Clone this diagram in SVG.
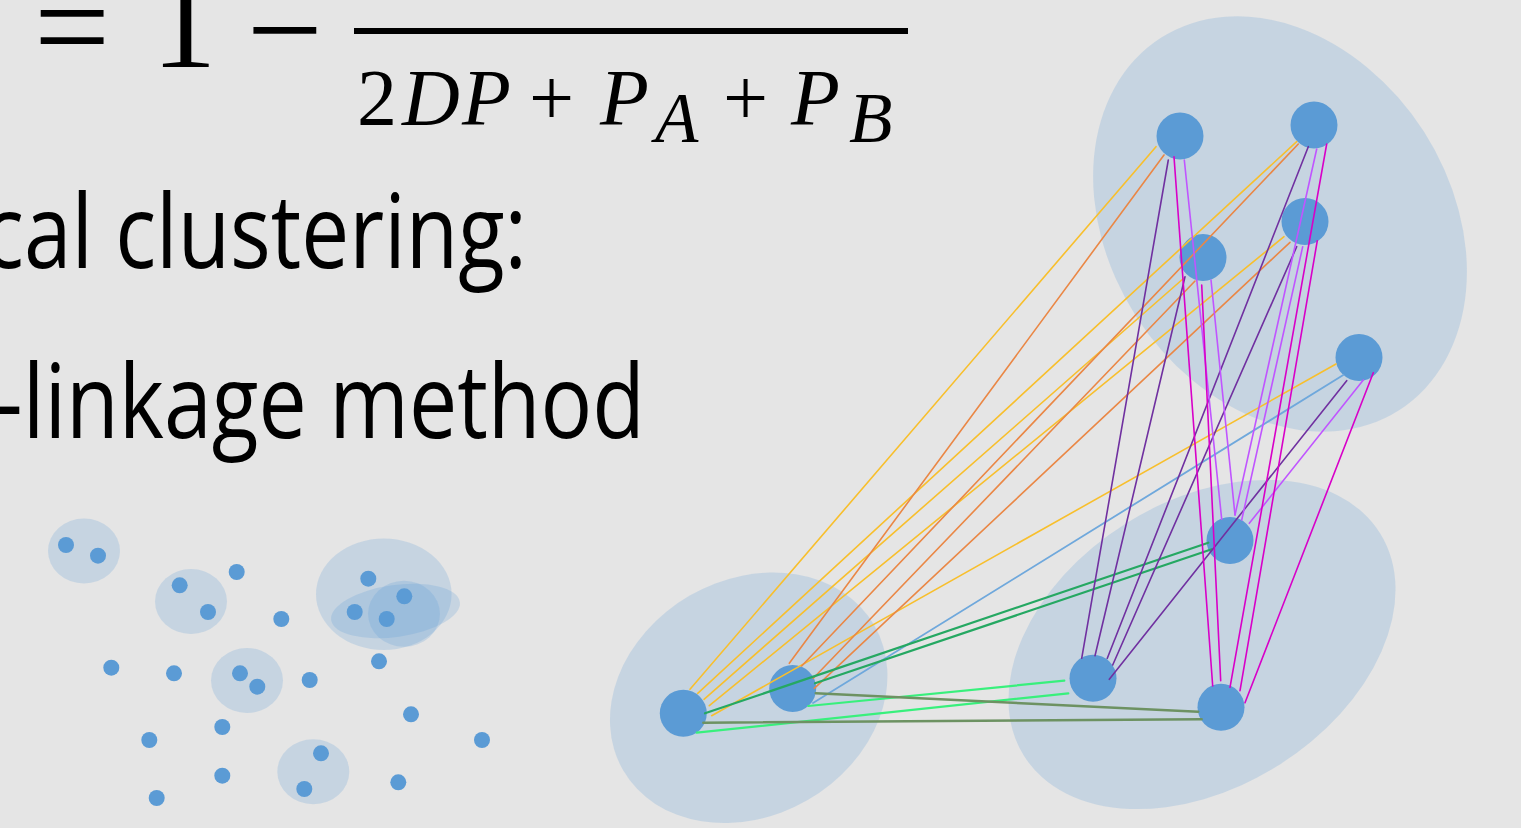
<svg xmlns="http://www.w3.org/2000/svg" width="1521" height="828" viewBox="0 0 1521 828">
<style>
.bg{fill:#e5e5e5}
.hull{fill:#5b9bd5;fill-opacity:0.22}
.dot{fill:#5b9bd5}
.node{fill:#5b9bd5}
.big{font-family:"Open Sans","Liberation Sans",sans-serif;font-size:102px;fill:#000}
.m{font-family:"Liberation Serif","DejaVu Serif",serif;fill:#000}
.it{font-style:italic}
#connectors line{fill:none;stroke-linecap:round}
.y{stroke:#f8bf2c;stroke-width:1.6}
.o{stroke:#ea8745;stroke-width:1.6}
.lb{stroke:#6fa8dc;stroke-width:1.8}
.dg{stroke:#25a862;stroke-width:2.2}
.bg2{stroke:#38f07c;stroke-width:2.2}
.ol{stroke:#6d9262;stroke-width:2.4}
.pu{stroke:#7030a0;stroke-width:1.6}
.lp{stroke:#c055ff;stroke-width:1.6}
.mg{stroke:#d800c8;stroke-width:1.6}
</style>
<rect class="bg" x="0" y="0" width="1521" height="828"/>

<g id="formula">
<text class="m" x="34" y="72" font-size="135">=</text>
<text class="m" x="184" y="67" font-size="130" text-anchor="middle">1</text>
<text class="m" x="284.5" y="75" font-size="135" text-anchor="middle">−</text>
<rect x="354" y="28" width="554" height="6" fill="#000"/>
<text class="m" y="125" font-size="80"><tspan x="357">2</tspan><tspan class="it" x="402">D</tspan><tspan class="it" x="462">P</tspan><tspan x="529">+</tspan><tspan class="it" x="600">P</tspan></text>
<text class="m it" x="655" y="142" font-size="71">A</text>
<text class="m" y="125" font-size="80"><tspan x="723">+</tspan><tspan class="it" x="791">P</tspan></text>
<text class="m it" x="849" y="142" font-size="71">B</text>
</g>

<g id="title">
<text class="big" x="-17" y="268" textLength="544" lengthAdjust="spacingAndGlyphs">cal clustering:</text>
<text class="big" x="-5" y="438" textLength="650" lengthAdjust="spacingAndGlyphs">-linkage method</text>
</g>

<g id="scatter">
<ellipse class="hull" cx="84" cy="551" rx="36" ry="32.5"/>
<ellipse class="hull" cx="191" cy="601.5" rx="36" ry="32.5"/>
<ellipse class="hull" cx="247" cy="680.5" rx="36" ry="32.5"/>
<ellipse class="hull" cx="313.3" cy="771.8" rx="36" ry="32.5"/>
<ellipse class="hull" cx="383.8" cy="594.2" rx="67.8" ry="55.8"/>
<ellipse class="hull" cx="404" cy="613.8" rx="36" ry="33"/>
<ellipse class="hull" cx="395.5" cy="611" rx="65" ry="26" transform="rotate(-8 395.5 611)"/>
<circle class="dot" cx="66" cy="545" r="8"/>
<circle class="dot" cx="98" cy="555.7" r="8"/>
<circle class="dot" cx="179.7" cy="585.3" r="8"/>
<circle class="dot" cx="208" cy="612" r="8"/>
<circle class="dot" cx="236.7" cy="572" r="8"/>
<circle class="dot" cx="281.3" cy="619" r="8"/>
<circle class="dot" cx="368.3" cy="578.7" r="8"/>
<circle class="dot" cx="404.3" cy="596.3" r="8"/>
<circle class="dot" cx="354.7" cy="612" r="8"/>
<circle class="dot" cx="386.7" cy="619" r="8"/>
<circle class="dot" cx="379" cy="661.3" r="8"/>
<circle class="dot" cx="111.3" cy="667.7" r="8"/>
<circle class="dot" cx="174" cy="673.3" r="8"/>
<circle class="dot" cx="240" cy="673.3" r="8"/>
<circle class="dot" cx="257.3" cy="686.7" r="8"/>
<circle class="dot" cx="309.7" cy="680" r="8"/>
<circle class="dot" cx="411" cy="714.3" r="8"/>
<circle class="dot" cx="482" cy="740" r="8"/>
<circle class="dot" cx="149.3" cy="740" r="8"/>
<circle class="dot" cx="222.3" cy="727" r="8"/>
<circle class="dot" cx="222.3" cy="775.7" r="8"/>
<circle class="dot" cx="156.7" cy="798" r="8"/>
<circle class="dot" cx="321" cy="753.3" r="8"/>
<circle class="dot" cx="304.3" cy="789" r="8"/>
<circle class="dot" cx="398.3" cy="782.3" r="8"/>
</g>

<g id="clusters">
<ellipse id="cluster-A" class="hull" cx="1280" cy="224" rx="221" ry="171" transform="rotate(57.4 1280 224)"/>
<ellipse id="cluster-B" class="hull" cx="1202" cy="644.5" rx="210" ry="143" transform="rotate(-32 1202 644.5)"/>
<ellipse id="cluster-C" class="hull" cx="748.7" cy="697.8" rx="145" ry="118" transform="rotate(-30 748.7 697.8)"/>
</g>

<g id="node-T1"><circle class="node" cx="1180" cy="136" r="23.5"/></g>
<g id="node-T2"><circle class="node" cx="1314" cy="125" r="23.5"/></g>
<g id="node-T3"><circle class="node" cx="1305" cy="221.5" r="23.5"/></g>
<g id="node-T4"><circle class="node" cx="1203" cy="257.5" r="23.5"/></g>
<g id="node-T5"><circle class="node" cx="1359" cy="357.5" r="23.5"/></g>
<g id="node-B1"><circle class="node" cx="1230" cy="540.5" r="23.5"/></g>
<g id="node-B2"><circle class="node" cx="1093" cy="678.3" r="23.5"/></g>
<g id="node-B3"><circle class="node" cx="1221" cy="707.3" r="23.5"/></g>
<g id="node-L1"><circle class="node" cx="683.3" cy="713.3" r="23.5"/></g>
<g id="node-L2"><circle class="node" cx="792.7" cy="688.5" r="23.5"/></g>

<g id="connectors">
<line class="y" x1="690" y1="689.3" x2="1156" y2="146.7"/>
<line class="y" x1="697.7" y1="693.3" x2="1296.7" y2="141.7"/>
<line class="y" x1="704" y1="699.3" x2="1184" y2="278"/>
<line class="y" x1="709.3" y1="705.7" x2="1284" y2="236.7"/>
<line class="y" x1="711.7" y1="715.7" x2="1336" y2="364"/>
<line class="o" x1="789.3" y1="663.3" x2="1164" y2="155"/>
<line class="o" x1="801.7" y1="666" x2="1298.3" y2="144"/>
<line class="o" x1="813.3" y1="678.3" x2="1195" y2="281"/>
<line class="o" x1="814.3" y1="688.3" x2="1290" y2="242.3"/>
<line class="lb" x1="813" y1="703" x2="1343.3" y2="375"/>
<line class="dg" x1="705" y1="713.3" x2="1208.3" y2="542.7"/>
<line class="dg" x1="815" y1="683.3" x2="1211.7" y2="549.3"/>
<line class="bg2" x1="696.7" y1="732.7" x2="1068.3" y2="693.3"/>
<line class="bg2" x1="808.3" y1="706" x2="1064.3" y2="680.7"/>
<line class="ol" x1="703.3" y1="722.7" x2="1201.7" y2="719.3"/>
<line class="ol" x1="815.7" y1="693.3" x2="1198.3" y2="711.7"/>
<line class="pu" x1="1081.7" y1="658.3" x2="1168.3" y2="160"/>
<line class="pu" x1="1095" y1="655.7" x2="1185" y2="276.7"/>
<line class="pu" x1="1107.3" y1="658.3" x2="1308.3" y2="146.7"/>
<line class="pu" x1="1112.7" y1="665" x2="1296.7" y2="246.7"/>
<line class="pu" x1="1109.3" y1="679.3" x2="1346.7" y2="380.7"/>
<line class="lp" x1="1221.7" y1="519.3" x2="1184.3" y2="160"/>
<line class="lp" x1="1235" y1="515" x2="1211" y2="280"/>
<line class="lp" x1="1235" y1="515" x2="1316.7" y2="149"/>
<line class="lp" x1="1241.7" y1="520" x2="1302.7" y2="246.7"/>
<line class="lp" x1="1249.3" y1="523.3" x2="1363.3" y2="380"/>
<line class="mg" x1="1212.7" y1="686" x2="1174" y2="156.7"/>
<line class="mg" x1="1220.7" y1="680.7" x2="1201.7" y2="285"/>
<line class="mg" x1="1230" y1="687.3" x2="1326.7" y2="144"/>
<line class="mg" x1="1240" y1="690.7" x2="1317.3" y2="240.7"/>
<line class="mg" x1="1245" y1="702.7" x2="1373.3" y2="372.7"/>
</g>
</svg>
